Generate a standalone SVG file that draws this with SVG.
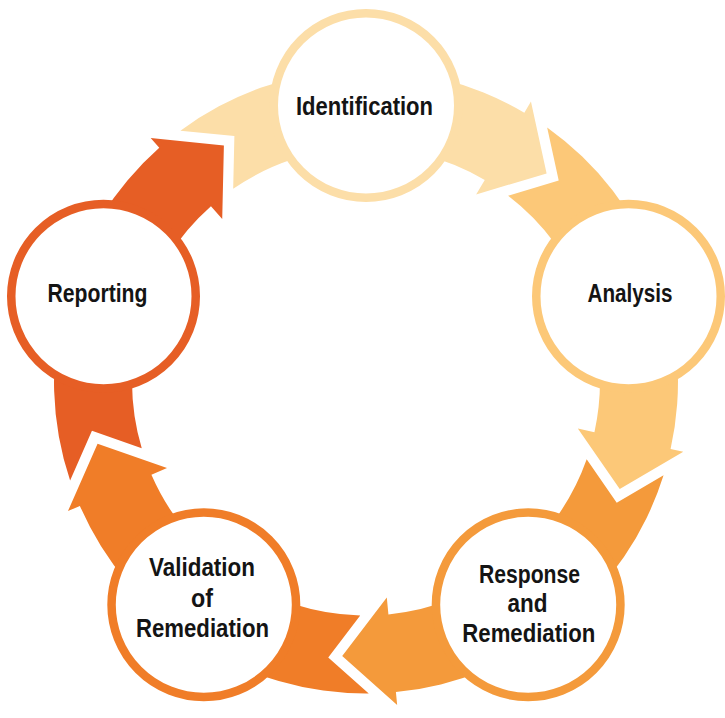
<svg xmlns="http://www.w3.org/2000/svg" xmlns:xlink="http://www.w3.org/1999/xlink" width="725" height="718" viewBox="0 0 725 718">
<style>
.lbl{font-family:"Liberation Sans",Arial,sans-serif;font-weight:bold;font-size:25px;fill:#141414;text-anchor:middle}
.ring{fill:#ffffff;stroke-width:8.5}
</style>
<defs>
<path id="band" d="M -185.61 -250.79 A 312 312 0 0 1 158.34 -268.82 L 164.94 -280.02 L 180.61 -208.11 L 110.12 -186.96 L 118.76 -201.61 A 234 234 0 0 0 -132.82 -192.65 L -131.62 -245.39 Z"/>
</defs>
<rect width="725" height="718" fill="#ffffff"/>
<g id="connectors" transform="translate(366,381.5)">
<use xlink:href="#band" href="#band" fill="#FCDEA8"/>
<use xlink:href="#band" href="#band" fill="#FCC878" transform="rotate(72)"/>
<use xlink:href="#band" href="#band" fill="#F49A3B" transform="rotate(144)"/>
<use xlink:href="#band" href="#band" fill="#F07D28" transform="rotate(216)"/>
<use xlink:href="#band" href="#band" fill="#E65E25" transform="rotate(288)"/>
</g>
<g id="node-identification">
<circle class="ring" cx="366" cy="105.5" r="92.25" stroke="#FCDEA8"/>
<text class="lbl" x="364.5" y="115" textLength="137" lengthAdjust="spacingAndGlyphs">Identification</text>
</g>
<g id="node-analysis">
<circle class="ring" cx="628.5" cy="296.2" r="92.25" stroke="#FCC878"/>
<text class="lbl" x="630" y="301.7" textLength="85" lengthAdjust="spacingAndGlyphs">Analysis</text>
</g>
<g id="node-response">
<circle class="ring" cx="528.2" cy="604.8" r="92.25" stroke="#F49A3B"/>
<text class="lbl" x="529.5" y="583.3" textLength="101" lengthAdjust="spacingAndGlyphs">Response</text>
<text class="lbl" x="527.5" y="612.3" textLength="40" lengthAdjust="spacingAndGlyphs">and</text>
<text class="lbl" x="528.8" y="642.3" textLength="133" lengthAdjust="spacingAndGlyphs">Remediation</text>
</g>
<g id="node-validation">
<circle class="ring" cx="203.8" cy="604.8" r="92.25" stroke="#F07D28"/>
<text class="lbl" x="202" y="576" textLength="106" lengthAdjust="spacingAndGlyphs">Validation</text>
<text class="lbl" x="202" y="607" textLength="22" lengthAdjust="spacingAndGlyphs">of</text>
<text class="lbl" x="202.5" y="637" textLength="133" lengthAdjust="spacingAndGlyphs">Remediation</text>
</g>
<g id="node-reporting">
<circle class="ring" cx="103.5" cy="296.2" r="92.25" stroke="#E65E25"/>
<text class="lbl" x="97.5" y="301.7" textLength="100" lengthAdjust="spacingAndGlyphs">Reporting</text>
</g>
</svg>
